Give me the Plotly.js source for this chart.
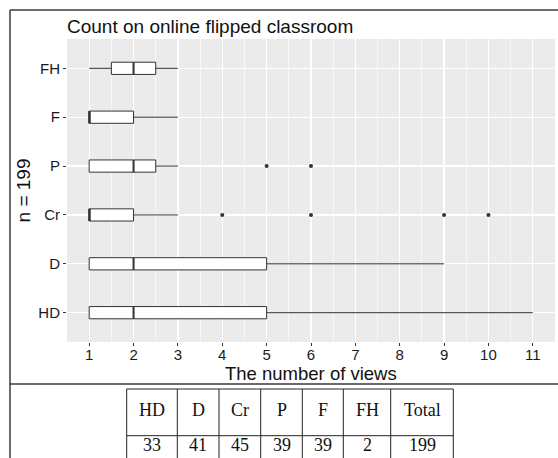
<!DOCTYPE html>
<html>
<head>
<meta charset="utf-8">
<script src="https://cdn.plot.ly/plotly-3.0.1.min.js"></script>
<style>html,body{margin:0;padding:0;background:#fff;}#chart{width:558px;height:458px;}</style>
</head>
<body>
<div id="chart"></div>
<script>
// ---- data ----
const categories = ['HD', 'D', 'Cr', 'P', 'F', 'FH'];
const q1 = [1, 1, 1, 1, 1, 1.5];
const medians = [2, 2, 1, 2, 1, 2];
const q3 = [5, 5, 2, 2.5, 2, 2.5];
const lowerFence = [1, 1, 1, 1, 1, 1];
const upperFence = [11, 9, 3, 3, 3, 3];
const crOutliers = [4, 6, 9, 10];
const pOutliers = [5, 6];
const xTicks = [1, 2, 3, 4, 5, 6, 7, 8, 9, 10, 11];
const tableHeaders = ['HD', 'D', 'Cr', 'P', 'F', 'FH', 'Total'];
const tableCounts = [33, 41, 45, 39, 39, 2, 199];
const xTitle = 'The number of views';
const yTitle = 'n = 199';
const chartTitle = 'Count on online flipped classroom';

// ---- layout helpers (pixels -> paper) ----
const W = 558, H = 458;
const M = {l: 67, r: 3, t: 39, b: 116};
const PW = W - M.l - M.r, PH = H - M.t - M.b;
const px = x => (x - M.l) / PW;
const py = y => (H - M.b - y) / PH;

const pos = categories.map((c, i) => i + 1);
const boxW = 0.25;
const dark = '#333333';

const traces = [];
traces.push({
  type: 'box', orientation: 'h',
  y: pos, q1: q1, median: medians, q3: q3,
  lowerfence: lowerFence, upperfence: upperFence,
  width: boxW, whiskerwidth: 0, boxpoints: false,
  fillcolor: 'white', line: {color: dark, width: 1},
  hoverinfo: 'skip', showlegend: false
});
// thicker median lines (ggplot style)
const mx = [], my = [];
medians.forEach((m, i) => { mx.push(m, m, null); my.push(pos[i] - boxW / 2, pos[i] + boxW / 2, null); });
traces.push({type: 'scatter', mode: 'lines', x: mx, y: my, line: {color: dark, width: 2},
  hoverinfo: 'skip', showlegend: false});
// outliers
const ox = [], oy = [];
crOutliers.forEach(v => { ox.push(v); oy.push(pos[categories.indexOf('Cr')]); });
pOutliers.forEach(v => { ox.push(v); oy.push(pos[categories.indexOf('P')]); });
traces.push({type: 'scatter', mode: 'markers', x: ox, y: oy,
  marker: {color: dark, size: 4}, hoverinfo: 'skip', showlegend: false});

// ---- frame & table (shapes/annotations) ----
const shapes = [];
const annotations = [];
const frameLine = {color: '#3a3a3a', width: 1.5};
shapes.push({type: 'line', xref: 'paper', yref: 'paper', x0: px(10), x1: px(10), y0: py(10), y1: py(470), line: frameLine});
shapes.push({type: 'line', xref: 'paper', yref: 'paper', x0: px(10), x1: px(570), y0: py(10), y1: py(10), line: frameLine});
shapes.push({type: 'line', xref: 'paper', yref: 'paper', x0: px(10), x1: px(570), y0: py(384), y1: py(384), line: frameLine});

const colEdges = [126.7, 177.3, 219, 260.7, 302.3, 343.3, 390.7, 453.3];
const rowTop = 389, rowMid = 435.7, rowBot = 482;
const tLine = {color: '#222', width: 1};
colEdges.forEach(x => shapes.push({type: 'line', xref: 'paper', yref: 'paper', x0: px(x), x1: px(x), y0: py(rowTop), y1: py(rowBot), line: tLine}));
[rowTop, rowMid, rowBot].forEach(y => shapes.push({type: 'line', xref: 'paper', yref: 'paper', x0: px(colEdges[0]), x1: px(colEdges[colEdges.length - 1]), y0: py(y), y1: py(y), line: tLine}));
const tFont = {family: 'Liberation Serif, Times New Roman, serif', size: 18, color: '#111'};
tableHeaders.forEach((h, i) => {
  const cx = (colEdges[i] + colEdges[i + 1]) / 2;
  annotations.push({xref: 'paper', yref: 'paper', x: px(cx), y: py(409.5), text: h, showarrow: false, xanchor: 'center', yanchor: 'middle', font: tFont});
  annotations.push({xref: 'paper', yref: 'paper', x: px(cx), y: py(444.5), text: String(tableCounts[i]), showarrow: false, xanchor: 'center', yanchor: 'middle', font: tFont});
});
// x-axis title placed tight under the tick labels (ggplot spacing)
annotations.push({xref: 'paper', yref: 'paper', x: 0.5, y: py(373.5), text: xTitle, showarrow: false,
  xanchor: 'center', yanchor: 'middle', borderpad: 0, font: {size: 18.5, color: '#111'}});

const layout = {
  width: W, height: H,
  margin: M,
  paper_bgcolor: 'white', plot_bgcolor: '#EBEBEB',
  font: {family: 'Liberation Sans, Arial, sans-serif', color: '#111'},
  title: {text: chartTitle, font: {size: 19, color: '#111'},
    xref: 'paper', x: 0, xanchor: 'left', yref: 'container', y: 1 - 26 / H, yanchor: 'middle'},
  xaxis: {
    range: [0.5, 11.5], tickvals: xTicks, ticktext: xTicks.map(String),
    ticks: 'outside', ticklen: 3, tickcolor: dark, tickwidth: 1, ticklabelstandoff: -4,
    tickfont: {size: 15, color: '#1a1a1a'},
    showgrid: true, gridcolor: 'white', gridwidth: 1.2, zeroline: false, showline: false,
    minor: {dtick: 0.5, tick0: 0.5, showgrid: true, gridcolor: 'white', gridwidth: 0.6, ticks: ''}
  },
  yaxis: {
    range: [0.4, 6.6], tickvals: pos, ticktext: categories,
    ticks: 'outside', ticklen: 3, tickcolor: dark, tickwidth: 1,
    tickfont: {size: 15, color: '#1a1a1a'},
    showgrid: true, gridcolor: 'white', gridwidth: 1.2, zeroline: false, showline: false,
    title: {text: yTitle, font: {size: 19, color: '#111'}, standoff: 2}
  },
  shapes: shapes,
  annotations: annotations,
  showlegend: false,
  hovermode: false
};

Plotly.newPlot('chart', traces, layout, {staticPlot: true, displayModeBar: false});
</script>
</body>
</html>
